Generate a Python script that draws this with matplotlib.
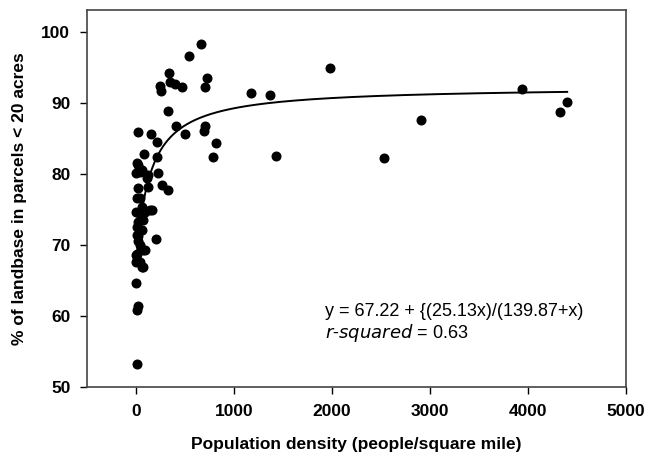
import numpy as np
import matplotlib
matplotlib.use("Agg")
import matplotlib.pyplot as plt

plt.rcParams['font.family'] = ['Liberation Sans', 'DejaVu Sans']

# population density (people/square mile) and % of landbase in parcels < 20 acres
density = [660, 544, 337, 245, 252, 347, 398, 466, 728, 707, 330, 1173, 1367,
           1980, 405, 497, 707, 694, 816, 789, 1429, 2534, 2905, 3936, 4401, 4327,
           20, 156, 211, 78, 211, 7, 24, 58, 0, 41, 126, 228, 109, 262, 330, 126,
           24, 7, 41, 58, 143, 160, 0, 92, 75, 24, 41, 7, 58, 7, 24, 201, 24, 41,
           75, 92, 7, 0, 7, 41, 0, 58, 75, 0, 24, 13, 7]
landbase = [98.3, 96.6, 94.3, 92.4, 91.7, 93.0, 92.7, 92.3, 93.6, 92.3, 88.9, 91.4,
            91.1, 95.0, 86.8, 85.6, 86.7, 86.0, 84.4, 82.4, 82.5, 82.2, 87.6, 92.0,
            90.1, 88.7,
            85.9, 85.6, 84.5, 82.8, 82.4, 81.5, 81.3, 80.6, 80.1, 80.3, 79.9, 80.1,
            79.4, 78.5, 77.7, 78.2, 78.0, 76.6, 76.6, 75.4, 74.9, 74.9, 74.7, 74.7,
            73.5, 73.3, 73.5, 72.6, 72.1, 71.4, 71.2, 70.8, 70.5, 70.0, 69.3, 69.3,
            68.8, 68.6, 67.9, 67.6, 67.6, 66.9, 66.9, 64.7, 61.4, 60.9, 53.3]

# fitted curve y = a + b*x/(c+x)
a, b, c = 67.22, 25.13, 139.87
xfit = np.linspace(0, 4400, 400)
yfit = a + b * xfit / (c + xfit)

fig = plt.figure(figsize=(6.47, 4.59), dpi=100)
ax = fig.add_axes([0.1345, 0.157, 0.833, 0.821])

ax.plot(xfit, yfit, color='black', linewidth=1.4, zorder=2)
ax.plot(density, landbase, 'o', color='black', markersize=6.2, zorder=3)

ax.set_xlim(-500, 5000)
ax.set_ylim(50, 103.1)
ax.set_xticks(range(0, 5001, 1000))
ax.set_yticks(range(50, 101, 10))
ax.tick_params(direction='out', length=5, width=1, labelsize=12.5, pad=7)
for lab in ax.get_xticklabels() + ax.get_yticklabels():
    lab.set_fontweight('bold')
for sp in ax.spines.values():
    sp.set_color('#444444')
    sp.set_linewidth(1.2)

ax.set_xlabel('Population density (people/square mile)', fontsize=12.5,
              fontweight='bold', labelpad=13)
ax.set_ylabel('% of landbase in parcels < 20 acres', fontsize=12.5,
              fontweight='bold', labelpad=10)

ax.text(1929, 60.6, 'y = 67.22 + {(25.13x)/(139.87+x)', fontsize=13,
        va='center', ha='left')
ax.text(1929, 57.6, '$\\it{r}$-$\\it{squared}$ = 0.63', fontsize=13,
        va='center', ha='left')

fig.savefig('out.png', dpi=100)
